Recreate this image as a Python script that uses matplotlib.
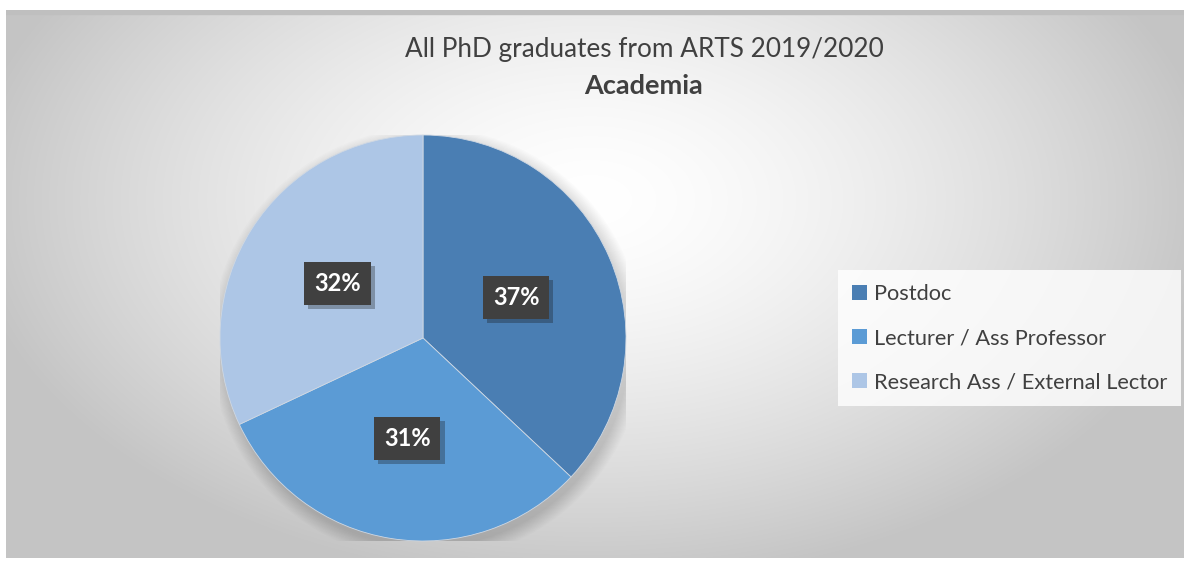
import numpy as np
import matplotlib.pyplot as plt
import matplotlib.patheffects as pe
from matplotlib.patches import Rectangle, Circle

labels = ['Postdoc', 'Lecturer / Ass Professor', 'Research Ass / External Lector']
shares = [37, 31, 32]
colors = ['#4a7eb3', '#5b9bd5', '#adc6e6']
title1 = 'All PhD graduates from ARTS 2019/2020'
title2 = 'Academia'

plt.rcParams['font.family'] = ['Lato', 'DejaVu Sans']

W, H = 1184, 562
fig = plt.figure(figsize=(W / 100, H / 100), dpi=100)
fig.patch.set_facecolor('white')

# background panel with radial gradient
bg = fig.add_axes([6 / W, 4 / H, (W - 6) / W, (H - 14) / H])
yy, xx = np.mgrid[10:558, 6:W]
r = np.sqrt(((xx - 590) / 620.0) ** 2 + ((yy - 200) / 380.0) ** 2)
val = 255 - 62 * np.clip(r / 1.05, 0, 1) ** 1.5
val = np.clip(val, 196, 255) / 255.0
img = np.dstack([val, val, val])
bg.imshow(img, aspect='auto', extent=[0, 1, 0, 1], origin='upper')
bg.set_xlim(0, 1)
bg.set_ylim(0, 1)
bg.axis('off')
bg.add_patch(Rectangle((0, 0.993), 1, 0.007, color='#bfbfbf', transform=bg.transAxes))

# pie
cx, cy, rad = 423, 338, 203
ax = fig.add_axes([(cx - rad) / W, (H - cy - rad) / H, 2 * rad / W, 2 * rad / H])
for k in range(12):
    ax.add_patch(Circle((0.02, -0.03), 1.0 + 0.006 * k, color='black', alpha=0.010, lw=0))
wedges, _, autotexts = ax.pie(shares, colors=colors, startangle=90, counterclock=False,
                              autopct='%d%%', pctdistance=0.5, radius=1.0,
                              wedgeprops=dict(linewidth=0.6, edgecolor='#cfd8e3'),
                              textprops=dict(color='white', fontsize=17, fontweight='bold'))
for t in autotexts:
    t.set_bbox(dict(boxstyle='square,pad=0.42', facecolor='#404040', edgecolor='none'))
    t.get_bbox_patch().set_path_effects([pe.SimplePatchShadow(offset=(3, -3), alpha=0.3),
                                         pe.Normal()])
ax.set_xlim(-1, 1)
ax.set_ylim(-1, 1)
ax.set_aspect('equal')
ax.axis('off')

# titles
fig.text(644 / W, 1 - 49 / H, title1, ha='center', va='center', fontsize=18.8, color='#404040')
fig.text(644 / W, 1 - 86 / H, title2, ha='center', va='center', fontsize=19.5,
         fontweight='bold', color='#404040')

# legend
leg = fig.legend(wedges, labels, loc='upper left',
                 bbox_to_anchor=(838 / W, 1 - 270 / H),
                 frameon=True, fancybox=False, fontsize=15.7,
                 handlelength=0.7, handleheight=0.7, handletextpad=0.3,
                 labelspacing=1.1, borderpad=0.65, borderaxespad=0)
leg.get_frame().set_facecolor((1, 1, 1, 0.18))
leg.get_frame().set_edgecolor('none')
for t in leg.get_texts():
    t.set_color('#404040')
for h in leg.legend_handles:
    h.set_edgecolor('none')

fig.savefig('out.png', dpi=100, facecolor='white')
